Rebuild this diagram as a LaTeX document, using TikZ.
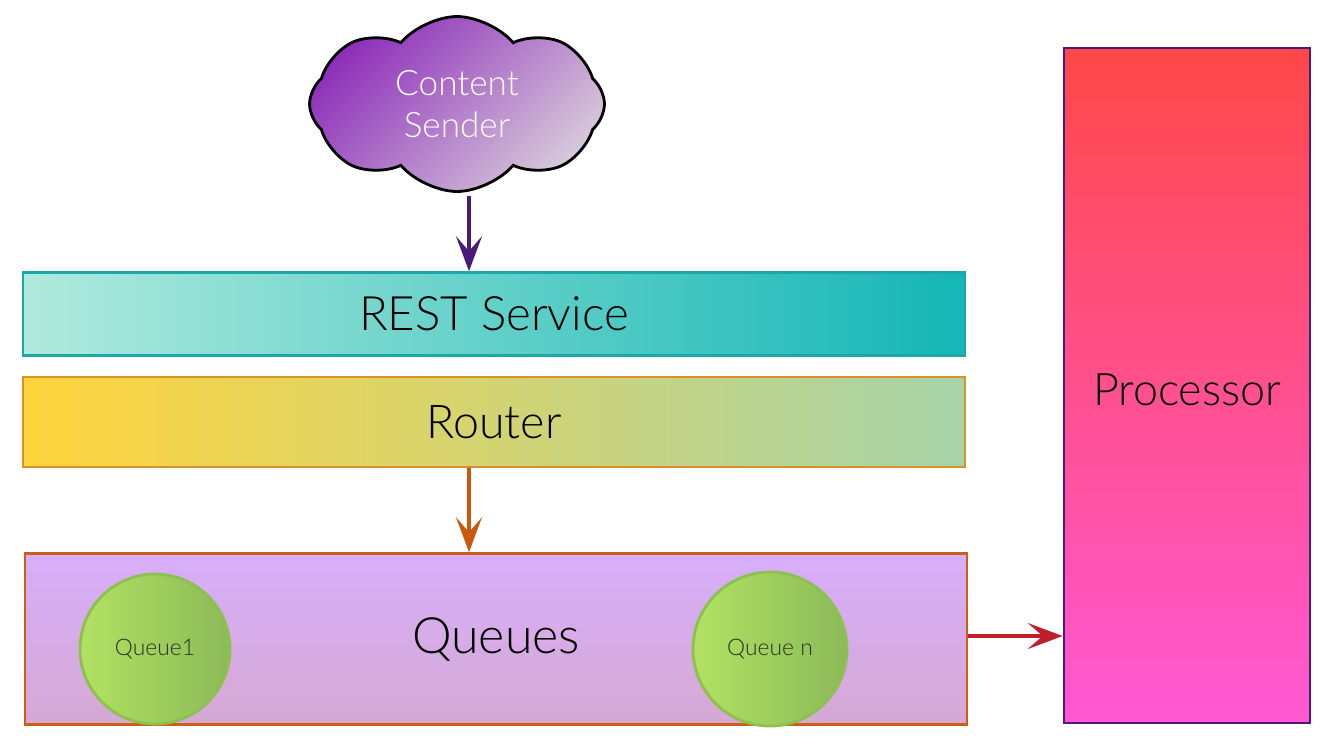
\documentclass[tikz,border=0pt]{standalone}
\usepackage{fontspec}
\setmainfont{Lato Light}
\usetikzlibrary{shapes.symbols, arrows.meta}

\definecolor{sendpurple}{HTML}{4A1A7A}
\definecolor{routeorange}{HTML}{C85A10}
\definecolor{outred}{HTML}{C01E28}
\definecolor{qborder}{HTML}{8DC04E}
\definecolor{qleft}{HTML}{B2E262}
\definecolor{qright}{HTML}{8BBA58}

\tikzset{
  layer/.style={draw, line width=1.5pt, minimum width=18.84cm, text=black},
  qcircle/.style={circle, draw=qborder, line width=1.6pt,
    left color=qleft, right color=qright,
    minimum size=3cm, inner sep=0pt, text={rgb,255:red,40;green,50;blue,30},
    font=\fontsize{13}{13}\selectfont},
  flow/.style={line width=2pt, -{Stealth[length=0.7cm, width=0.52cm, inset=0.3cm]}}
}

\begin{document}
\begin{tikzpicture}[x=0.02cm, y=-0.02cm]
  \useasboundingbox (0,0) rectangle (1334,752);

  \node (sender) [cloud, cloud puffs=8, cloud puff arc=100, cloud ignores aspect,
    draw=black, line width=1.6pt, minimum width=5.9cm, minimum height=3.5cm,
    top color={rgb,255:red,142;green,47;blue,186}, bottom color={rgb,255:red,214;green,200;blue,218},
    shading angle=45, text=white, align=center,
    font=\fontsize{20}{24}\selectfont] at (457,104) {Content\\Sender};

  \node (rest) [layer, minimum height=1.66cm, draw={rgb,255:red,26;green,168;blue,168},
    left color={rgb,255:red,176;green,234;blue,220}, right color={rgb,255:red,20;green,182;blue,182},
    font=\fontsize{27}{27}\selectfont] at (494,314) {REST Service};

  \node (router) [layer, minimum height=1.8cm, draw={rgb,255:red,216;green,146;blue,42},
    left color={rgb,255:red,255;green,212;blue,60}, right color={rgb,255:red,167;green,211;blue,169},
    font=\fontsize{26.5}{27}\selectfont] at (494,422) {Router};

  \node (queues) [layer, minimum height=3.42cm, draw={rgb,255:red,200;green,96;blue,26},
    top color={rgb,255:red,216;green,174;blue,251}, bottom color={rgb,255:red,213;green,169;blue,211},
    font=\fontsize{28.5}{29}\selectfont] at (496,639) {Queues};

  \node (q1) [qcircle] at (155,649) {Queue1};
  \node (qn) [qcircle, minimum size=3.08cm] at (770,649) {Queue n};

  \node (processor) [draw={rgb,255:red,74;green,26;blue,128}, line width=1.5pt,
    minimum width=4.92cm, minimum height=13.5cm,
    top color={rgb,255:red,255;green,72;blue,72}, bottom color={rgb,255:red,255;green,88;blue,212}]
    at (1187,385.5) {};
  \node (ptext) [font=\fontsize{25.5}{26}\selectfont] at (1187,390) {Processor};

  \draw[flow, sendpurple] ([xshift=0.24cm, yshift=-1.84cm]sender.center)
    -- ([xshift=0.24cm]sender.center |- rest.north);
  \draw[flow, routeorange] ([xshift=-0.5cm]router.south)
    -- ([xshift=-0.5cm]router.south |- queues.north);
  \draw[flow, outred] ([yshift=0.06cm]queues.east) -- ([yshift=0.06cm]queues.east -| processor.west);

\end{tikzpicture}
\end{document}
